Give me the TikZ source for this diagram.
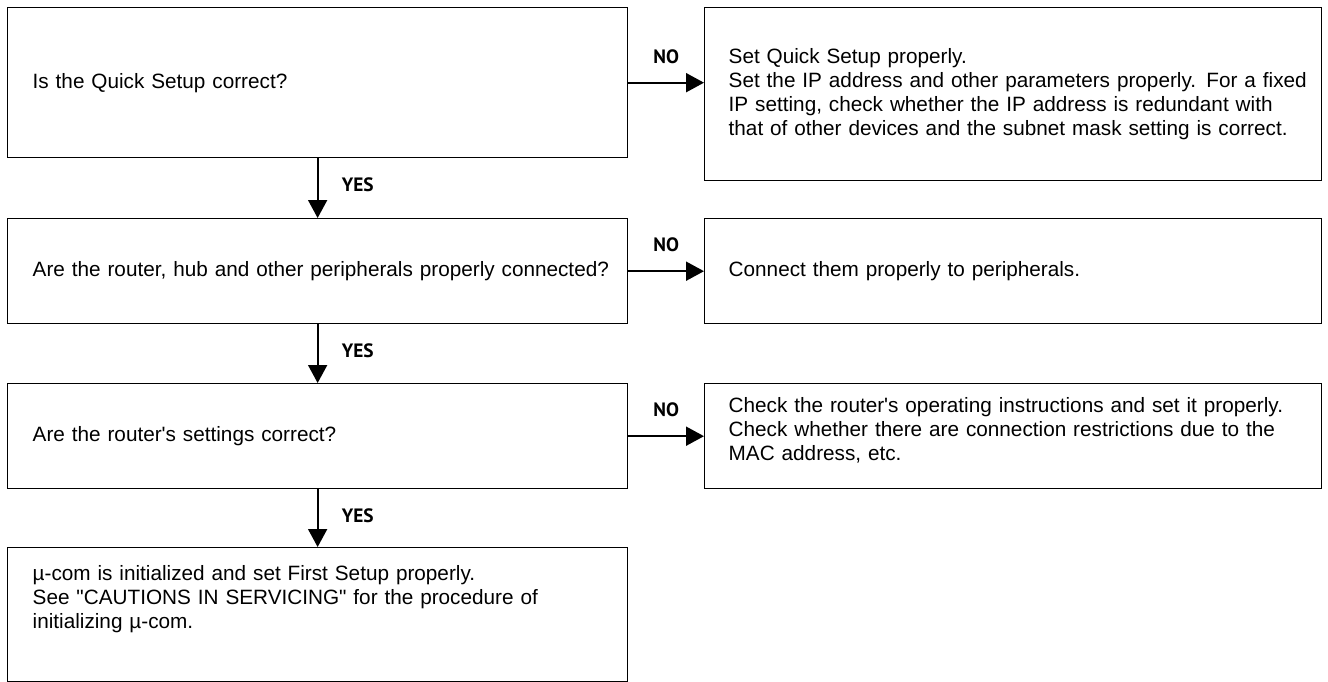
\documentclass[tikz,border=0pt]{standalone}
\usepackage{fontspec}
\setmainfont{Liberation Sans}
\newfontfamily\answerfont{PT Sans}
\usetikzlibrary{arrows.meta,positioning}
\tikzset{
  check box/.style={draw,line width=0.8pt,anchor=north west,align=left,
    inner xsep=0pt,inner ysep=0pt,font=\fontsize{11.8}{13.6}\selectfont},
  left box/.style={check box,minimum width=12.4cm,text width=12.4cm,
    execute at begin node={\leftskip=0.5cm}},
  right box/.style={check box,minimum width=12.34cm,text width=12.34cm,
    execute at begin node={\leftskip=0.48cm}},
  flow arrow/.style={line width=1.1pt,-{Triangle[length=3.6mm,width=3.8mm]}},
  answer/.style={font=\answerfont\bfseries\fontsize{11}{12}\selectfont},
}
\begin{document}
\begin{tikzpicture}[x=0.02cm,y=-0.02cm]
  \useasboundingbox (0,0) rectangle (1328,682);
  % questions
  \node[left box,minimum height=3cm] (q1) at (7,7) {Is the Quick Setup correct?};
  \node[left box,minimum height=2.1cm] (q2) at (7,218) {Are the router, hub and other peripherals properly connected?};
  \node[left box,minimum height=2.1cm] (q3) at (7,383) {Are the router\textquotesingle s settings correct?};
  \node[left box,minimum height=2.68cm] (fin) at (7,547) {µ-com is initialized and set First Setup properly.\\See \textquotedbl CAUTIONS IN SERVICING\textquotedbl{} for the procedure of\\initializing µ-com.\rule[-0.7cm]{0pt}{0pt}};
  % remedies
  \node[right box,minimum height=3.46cm] (a1) at (704,7) {Set Quick Setup properly.\\Set the IP address and other parameters properly. For a fixed\\IP setting, check whether the IP address is redundant with\\that of other devices and the subnet mask setting is correct.};
  \node[right box,minimum height=2.1cm] (a2) at (704,218) {Connect them properly to peripherals.};
  \node[right box,minimum height=2.1cm] (a3) at (704,383) {Check the router\textquotesingle s operating instructions and set it properly.\\Check whether there are connection restrictions due to the\\MAC address, etc.\rule[-0.3cm]{0pt}{0pt}};
  \draw[flow arrow] (q1) -- node[answer,pos=0.45,right=0.35cm]{YES} (q2);
  \draw[flow arrow] (q2) -- node[answer,pos=0.45,right=0.35cm]{YES} (q3);
  \draw[flow arrow] (q3) -- node[answer,pos=0.45,right=0.35cm]{YES} (fin);
  \draw[flow arrow] (q1.east) -- node[answer,above=0.25cm]{NO} (q1.east -| a1.west);
  \draw[flow arrow] (q2.east) -- node[answer,above=0.25cm]{NO} (q2.east -| a2.west);
  \draw[flow arrow] (q3.east) -- node[answer,above=0.25cm]{NO} (q3.east -| a3.west);
\end{tikzpicture}
\end{document}
